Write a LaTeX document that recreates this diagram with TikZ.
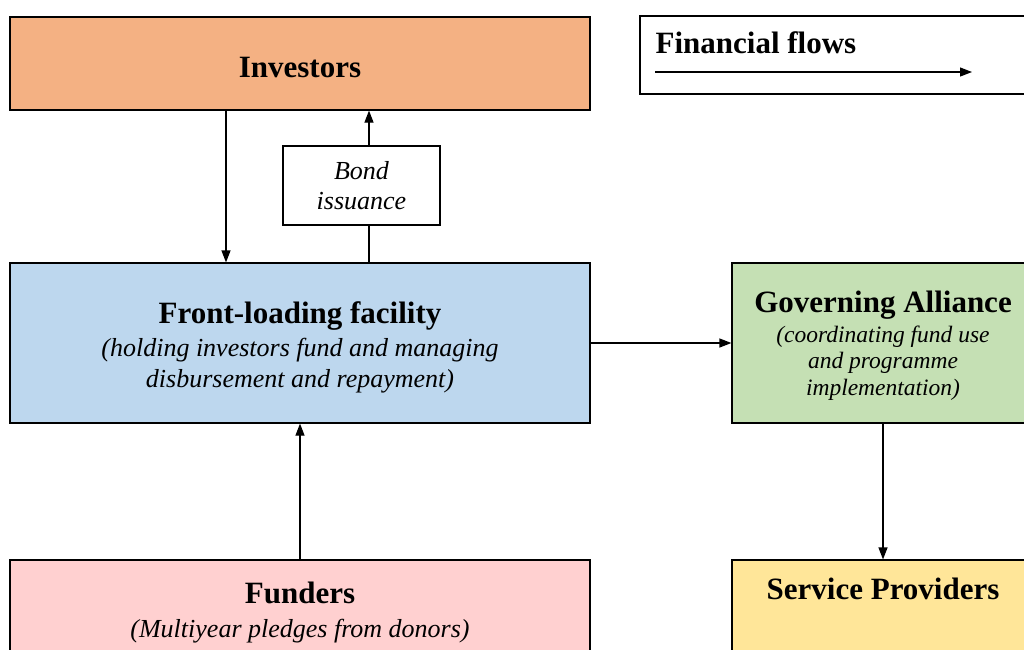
\documentclass[tikz,border=0pt]{standalone}
\usepackage{fontspec}
\setmainfont{Liberation Serif}
\usetikzlibrary{arrows.meta}

\definecolor{investorfill}{HTML}{F4B183}
\definecolor{facilityfill}{HTML}{BDD7EE}
\definecolor{alliancefill}{HTML}{C5E0B4}
\definecolor{providerfill}{HTML}{FFE699}
\definecolor{funderfill}{HTML}{FFD0D0}

\begin{document}
\begin{tikzpicture}[x = 1pt, y = -1pt, line width = 1.2pt,
    >= {Triangle[length = 12pt, width = 9pt]},
    every node/.style = {inner sep = 0pt},
    box/.style = {shape = rectangle, draw, line width = 1.2pt},
    title/.style = {anchor = base, font = \fontsize{31}{36}\selectfont\bfseries},
    note/.style = {anchor = base, font = \fontsize{26}{31}\selectfont\itshape},
    smallnote/.style = {anchor = base, font = \fontsize{23.5}{27}\selectfont\itshape}]
        \useasboundingbox (0,0) rectangle (1024,649);
        \clip (0,0) rectangle (1024,649);
        % boxes
        \node[box, fill = investorfill, minimum width = 580pt, minimum height = 93pt] (investors) at (300,63.5) {};
        \node[box, fill = facilityfill, minimum width = 580pt, minimum height = 160pt] (facility) at (300,343) {};
        \node[box, fill = alliancefill, minimum width = 302pt, minimum height = 160pt] (alliance) at (883,343) {};
        \node[box, fill = providerfill, minimum width = 302pt, minimum height = 140pt] (providers) at (883,630) {};
        \node[box, fill = funderfill, minimum width = 580pt, minimum height = 140pt] (funders) at (300,630) {};
        \node[box, fill = white, minimum width = 157pt, minimum height = 79pt, align = center,
            font = \fontsize{26}{30}\selectfont\itshape] (bond) at (361.5,185.5) {Bond\\issuance};
        \node[box, minimum width = 394pt, minimum height = 78pt] (legend) at (837,55) {};
        % texts
        \node[title] (investorstitle) at (300,77) {Investors};
        \node[title] (facilitytitle) at (300,323) {Front-loading facility};
        \node[note] (facilitynoteA) at (300,356) {(holding investors fund and managing};
        \node[note] (facilitynoteB) at (300,387) {disbursement and repayment)};
        \node[title] (alliancetitle) at (883,312) {Governing Alliance};
        \node[smallnote] (alliancenoteA) at (883,342) {(coordinating fund use};
        \node[smallnote] (alliancenoteB) at (883,368) {and programme};
        \node[smallnote] (alliancenoteC) at (883,395) {implementation)};
        \node[title] (providerstitle) at (883,599) {Service Providers};
        \node[title] (funderstitle) at (300,603) {Funders};
        \node[note] (fundersnote) at (300,637) {(Multiyear pledges from donors)};
        \node[title, anchor = base west] (legendtitle) at (655,53) {Financial flows};
        % flows
        \draw[->] ([xshift = -74pt]investors.south) -- ([xshift = -74pt]facility.north);
        \draw ([xshift = 69pt]facility.north) -- ([xshift = 7.5pt]bond.south);
        \draw[->] ([xshift = 7.5pt]bond.north) -- ([xshift = 69pt]investors.south);
        \draw[->] (facility.east) -- (alliance.west);
        \draw[->] (alliance.south) -- (providers.north);
        \draw[->] (funders.north) -- (facility.south);
        \coordinate (legendstart) at (655,72);
        \coordinate (legendend) at (972,72);
        \draw[->] (legendstart) -- (legendend);
\end{tikzpicture}
\end{document}
